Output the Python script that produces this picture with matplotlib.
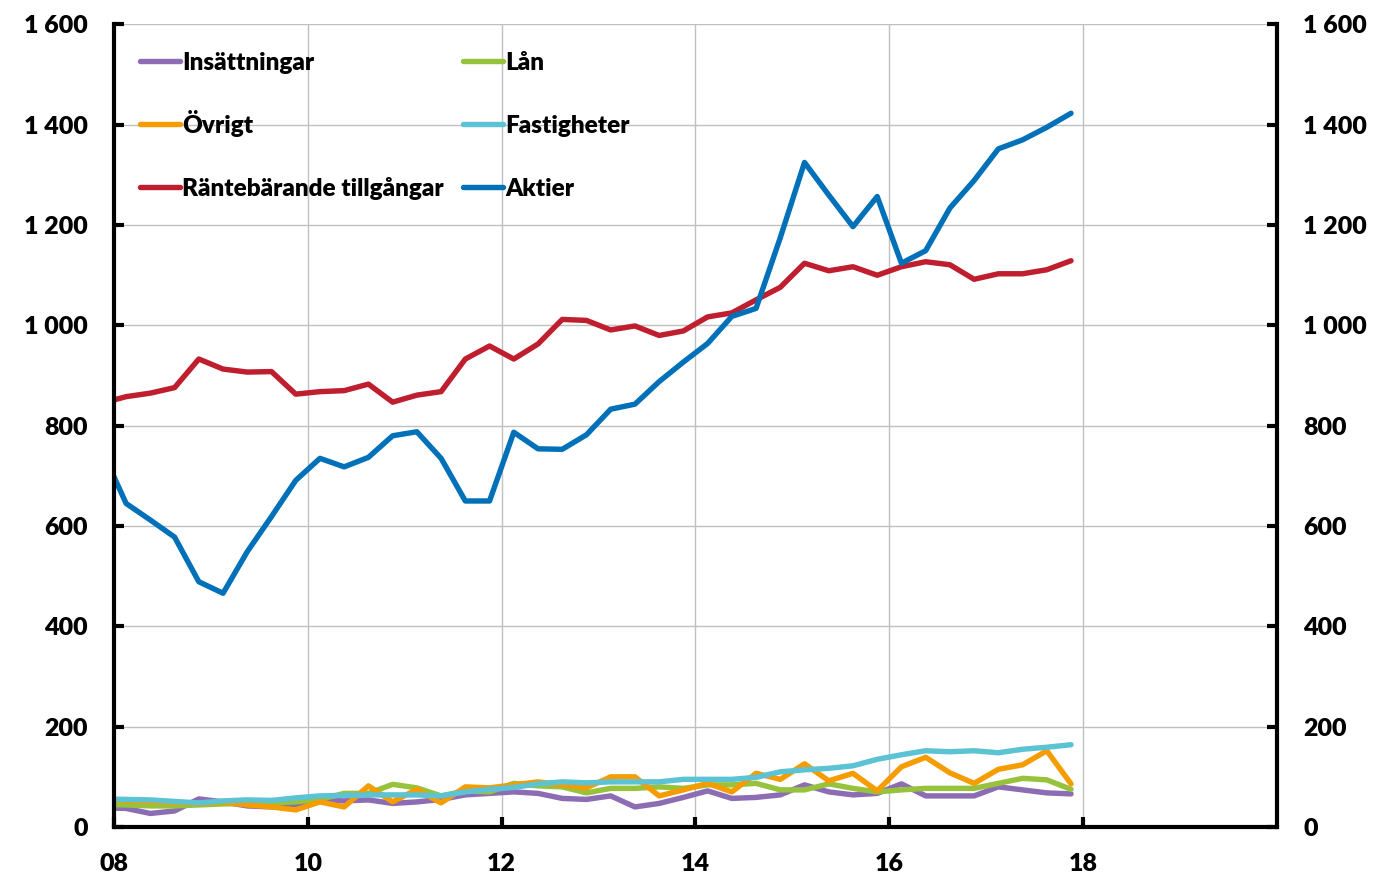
import numpy as np
import pandas as pd
import matplotlib
matplotlib.use('Agg')
import matplotlib.pyplot as plt
from matplotlib.ticker import FuncFormatter

plt.rcParams['font.family'] = ['Lato', 'DejaVu Sans']
plt.rcParams['font.weight'] = 'heavy'

######################################
# data, quarterly (Q4 2007 - Q4 2017), plotted mid-quarter
quarters = pd.period_range('2007Q4', '2017Q4', freq='Q')
x_years = [q.year + (q.quarter - 0.5) / 4 for q in quarters]

insattningar = [38, 37, 27, 32, 56, 50, 42, 40, 45, 54, 52, 54, 47, 50, 55, 64, 67, 70, 67, 57,
                55, 62, 40, 47, 59, 72, 57, 59, 64, 84, 70, 64, 67, 86, 62, 62, 62, 80, 74, 68, 66]
lan = [45, 44, 42, 42, 44, 46, 47, 48, 50, 55, 67, 67, 85, 78, 62, 72, 70, 87, 82, 80,
       68, 77, 77, 80, 77, 84, 84, 87, 74, 74, 86, 77, 70, 74, 77, 77, 77, 87, 97, 94, 75]
ovrigt = [54, 53, 51, 49, 47, 50, 44, 40, 34, 50, 40, 82, 50, 75, 48, 80, 78, 84, 90, 84,
          78, 100, 100, 62, 74, 87, 70, 107, 95, 126, 92, 107, 72, 120, 139, 108, 87, 115, 124, 152, 86]
fastigheter = [56, 55, 54, 51, 48, 52, 54, 53, 58, 62, 63, 64, 64, 64, 62, 70, 75, 79, 86, 90,
               88, 90, 90, 90, 95, 95, 95, 99, 110, 114, 117, 122, 135, 144, 152, 150, 152, 148, 155, 159, 164]
rantebarande = [845, 858, 865, 876, 933, 913, 907, 908, 863, 868, 870, 883, 847, 861, 868, 933, 959, 933, 963, 1012,
                1010, 991, 999, 980, 989, 1017, 1025, 1051, 1076, 1124, 1109, 1117, 1100, 1117, 1127, 1121, 1092, 1103, 1103, 1111, 1129]
aktier = [751, 645, 612, 578, 489, 466, 549, 619, 691, 735, 718, 737, 780, 788, 735, 650, 650, 787, 754, 753,
          782, 833, 843, 888, 927, 964, 1018, 1034, 1175, 1325, 1260, 1197, 1257, 1124, 1149, 1234, 1289, 1352, 1370, 1395, 1423]

series = [('Insättningar', insattningar, '#8c6db3'),
          ('Lån', lan, '#97c23c'),
          ('Övrigt', ovrigt, '#f59d00'),
          ('Fastigheter', fastigheter, '#5bc3d3'),
          ('Räntebärande tillgångar', rantebarande, '#be1e2d'),
          ('Aktier', aktier, '#0071b9')]

############################################
# plot
fig = plt.figure(figsize=(13.82, 8.81), dpi=100)
ax = fig.add_axes([0.0825, 0.0613, 0.924 - 0.0825, 0.9722 - 0.0613])

LW = 3.9
for name, vals, col in series:
    ax.plot(x_years, vals, color=col, lw=LW, label=name, solid_capstyle='round')

ax.set_xlim(2008, 2020)
ax.set_ylim(0, 1600)
ax.set_xticks(range(2008, 2019, 2))
ax.set_yticks(range(0, 1601, 200))
ax.xaxis.set_major_formatter(FuncFormatter(lambda v, p: '%02d' % (int(round(v)) % 100)))
ax.yaxis.set_major_formatter(FuncFormatter(lambda v, p: '{:,}'.format(int(v)).replace(',', ' ')))

ax.grid(True, color='#c0c0c0', lw=1)
ax.set_axisbelow(True)

for s in ['left', 'bottom', 'right']:
    ax.spines[s].set_linewidth(3)
    ax.spines[s].set_color('black')
ax.spines['top'].set_visible(False)

ax.tick_params(axis='both', which='major', direction='in', length=7, width=3,
               labelsize=18, pad=19, right=True, labelright=True)

# legend, filled row by row in two columns, placed by hand so the rows line up
col_x = [0.0224, 0.3001]
row_y = [0.9545, 0.876, 0.7975]
h_len = 0.0344
for i, (name, vals, col) in enumerate(series):
    x0 = col_x[i % 2]
    y0 = row_y[i // 2]
    ax.plot([x0, x0 + h_len], [y0, y0], color=col, lw=LW, solid_capstyle='round',
            transform=ax.transAxes, clip_on=False)
    ax.text(x0 + h_len + 0.0017, y0 - 0.0112, name, transform=ax.transAxes,
            fontsize=17.5, va='baseline', ha='left')

plt.savefig('out.png', dpi=100)
